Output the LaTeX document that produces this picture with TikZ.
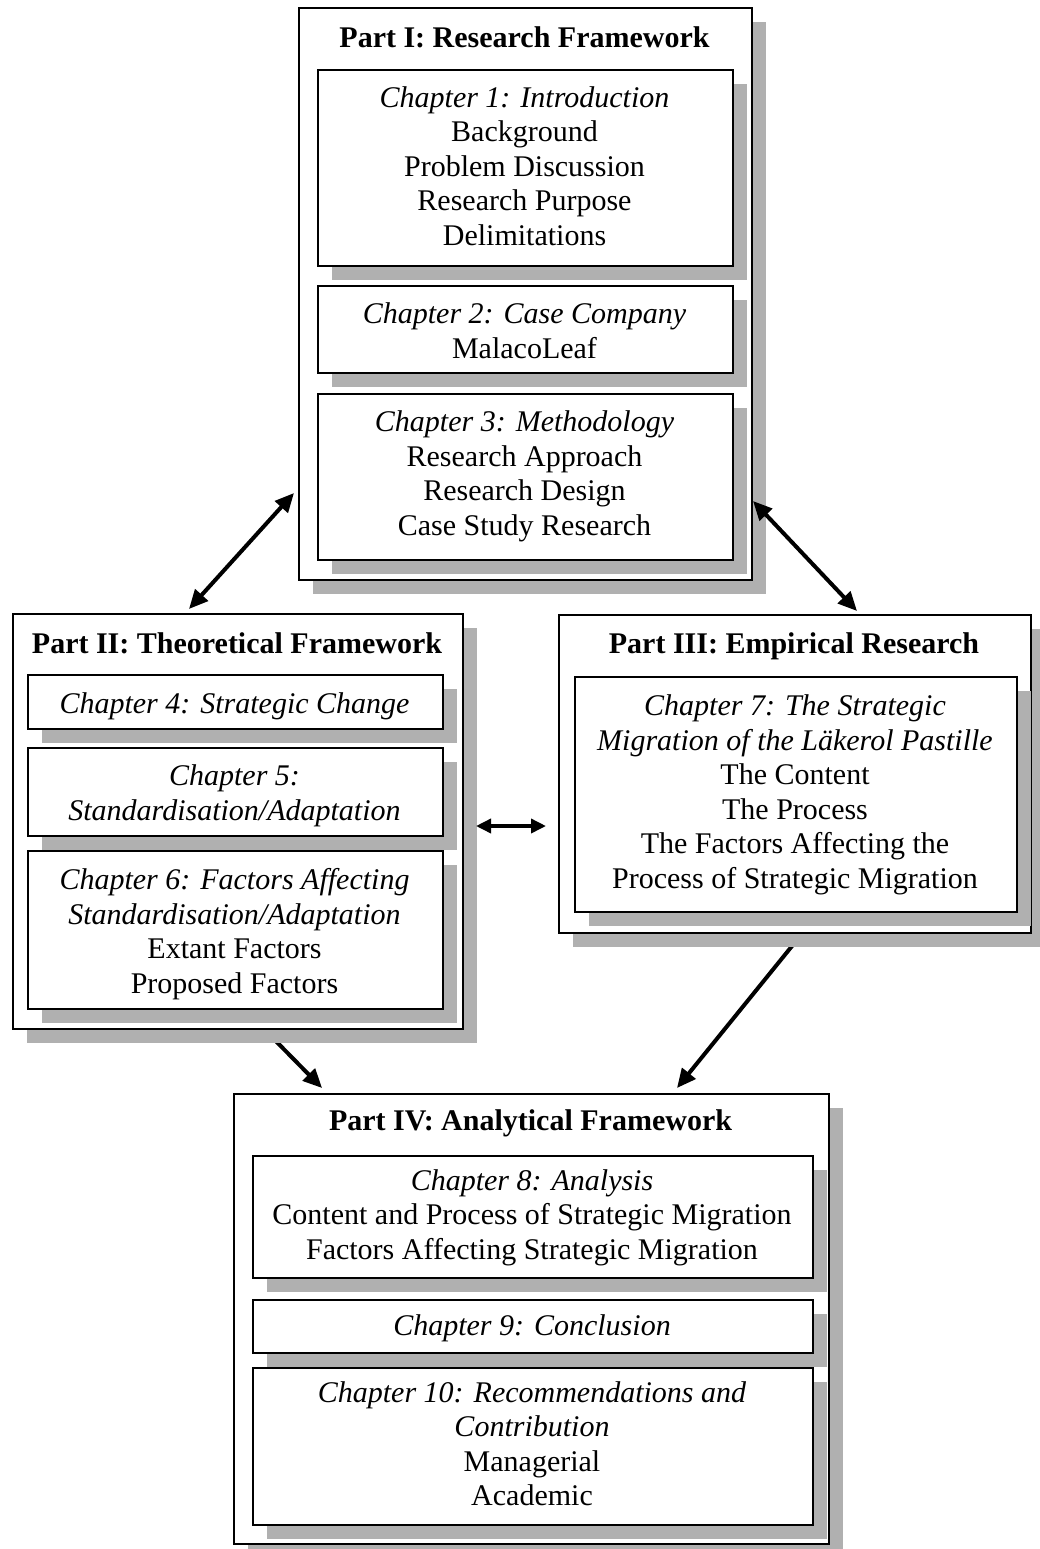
\documentclass[tikz,border=0pt]{standalone}
\usepackage{fontspec}
\setmainfont{Liberation Serif}
\usetikzlibrary{arrows.meta}
\pgfdeclarelayer{bg}
\pgfsetlayers{bg,main}
\tikzset{
  shadowfill/.style={fill=black!31},
  boxline/.style={draw=black, line width=2pt, fill=white, inner sep=0pt},
  txt/.style={font=\fontsize{30}{34.5}\selectfont, inner sep=0pt, anchor=base},
  ttl/.style={font=\fontsize{30}{34.5}\selectfont\bfseries, inner sep=0pt, anchor=base},
  biarrow/.style={line width=4pt, {Triangle[length=19pt,width=17pt]}-{Triangle[length=19pt,width=17pt]}},
  smallbiarrow/.style={line width=3.5pt, {Triangle[length=15pt,width=14pt]}-{Triangle[length=15pt,width=14pt]}},
  onearrow/.style={line width=4pt, -{Triangle[length=19pt,width=17pt]}}
}
% name, x1, y1, x2, y2
\newcommand\mybox[5]{%
  \fill[shadowfill] ({#2+15},{#3+15}) rectangle ({#4+15},{#5+15});
  \node[boxline, anchor=north west, minimum width={#4-#2}, minimum height={#5-#3}] (#1) at (#2,#3) {};
}
% name, x, first baseline, list of lines
\newcommand\mylines[4]{%
  \foreach \ln [count=\k] in {#4} {
    \node[txt] (#1-\k) at ({#2},{#3+(\k-1)*34.5}) {\ln};
  }
}
\begin{document}
\begin{tikzpicture}[x=1pt,y=-1pt]
\useasboundingbox (0,0) rectangle (1039,1549);

% ---------------- Part I ----------------
\mybox{p1}{298}{7}{751}{579}
\mybox{c1}{317}{69}{732}{265}
\mybox{c2}{317}{285}{732}{372}
\mybox{c3}{317}{393}{732}{559}
\node[ttl] (t1) at (524.5,47.5) {Part I: Research Framework};
\mylines{l1}{524.5}{107.5}{{\itshape Chapter 1: Introduction},Background,Problem Discussion,Research Purpose,Delimitations}
\mylines{l2}{524.5}{323.5}{{\itshape Chapter 2: Case Company},MalacoLeaf}
\mylines{l3}{524.5}{431.5}{{\itshape Chapter 3: Methodology},Research Approach,Research Design,Case Study Research}

% ---------------- Part II ----------------
\mybox{p2}{12}{613}{462}{1028}
\mybox{c4}{27}{674}{442}{728}
\mybox{c5}{27}{747}{442}{835}
\mybox{c6}{27}{850}{442}{1008}
\node[ttl] (t2) at (237,653.5) {Part II: Theoretical Framework};
\mylines{l4}{234.5}{713.5}{{\itshape Chapter 4: Strategic Change}}
\mylines{l5}{234.5}{785.5}{{\itshape Chapter 5:},{\itshape Standardisation/Adaptation}}
\mylines{l6}{234.5}{889.5}{{\itshape Chapter 6: Factors Affecting},{\itshape Standardisation/Adaptation},Extant Factors,Proposed Factors}

% ---------------- Part III ----------------
\mybox{p3}{558}{614}{1030}{932}
\mybox{c7}{574}{676}{1016}{911}
\node[ttl] (t3) at (794,653.5) {Part III: Empirical Research};
\mylines{l7}{795}{715.5}{{\itshape Chapter 7: The Strategic},{\itshape Migration of the Läkerol Pastille},The Content,The Process,The Factors Affecting the,Process of Strategic Migration}

% ---------------- Part IV ----------------
\mybox{p4}{233}{1093}{828}{1543}
\mybox{c8}{252}{1155}{812}{1277}
\mybox{c9}{252}{1299}{812}{1352}
\mybox{c10}{252}{1367}{812}{1524}
\node[ttl] (t4) at (530.5,1130) {Part IV: Analytical Framework};
\mylines{l8}{532}{1190}{{\itshape Chapter 8: Analysis},Content and Process of Strategic Migration,Factors Affecting Strategic Migration}
\mylines{l9}{532}{1335}{{\itshape Chapter 9: Conclusion}}
\mylines{l10}{532}{1402}{{\itshape Chapter 10: Recommendations and},{\itshape Contribution},Managerial,Academic}

% ---------------- connectors ----------------
\coordinate (a1) at (294,493);
\coordinate (a2) at (189,609);
\coordinate (b1) at (753,501);
\coordinate (b2) at (857,611);
\coordinate (h1) at (476,826);
\coordinate (h2) at (546,826);
\coordinate (d1) at (265,1030);
\coordinate (d2) at (322,1088);
\coordinate (e1) at (805,930);
\coordinate (e2) at (677,1088);
\draw[biarrow] (a1) -- (a2);
\draw[biarrow] (b1) -- (b2);
\draw[smallbiarrow] (h1) -- (h2);
\begin{pgfonlayer}{bg}
\draw[onearrow] (d1) -- (d2);
\draw[onearrow] (e1) -- (e2);
\end{pgfonlayer}
\end{tikzpicture}
\end{document}
